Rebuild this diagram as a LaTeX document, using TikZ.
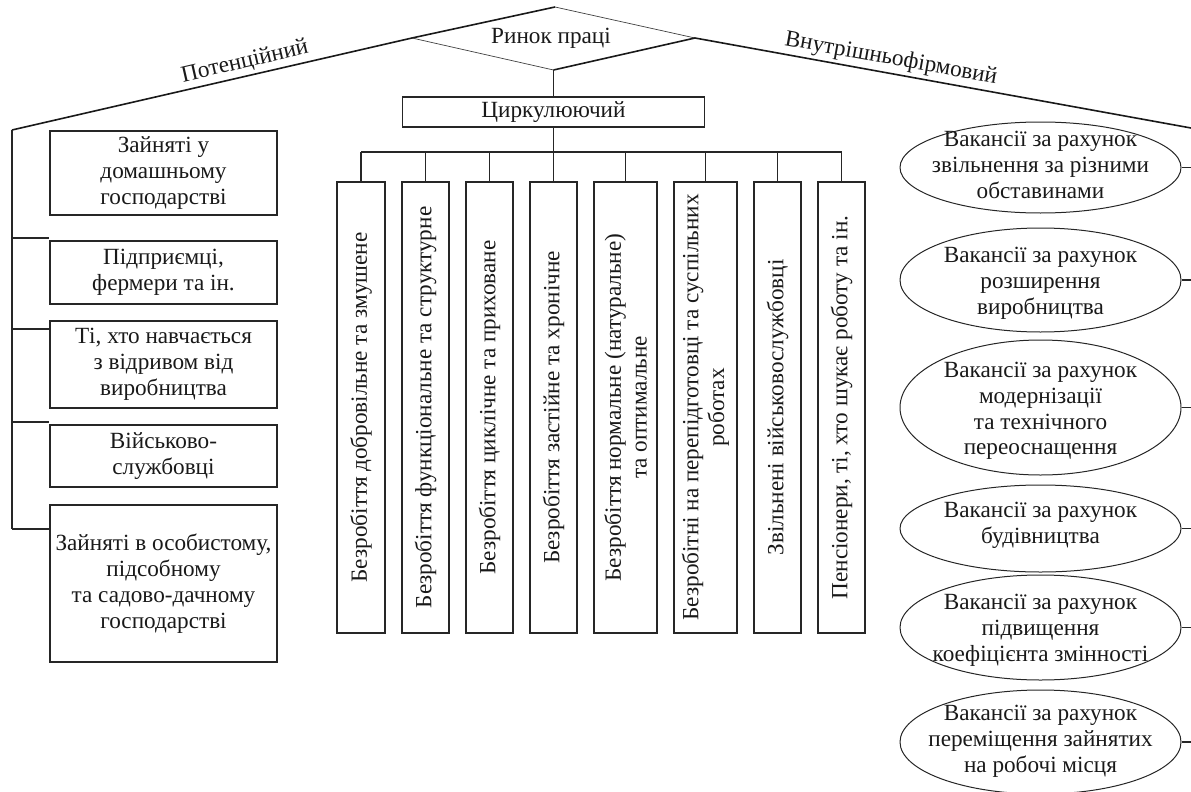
\documentclass[tikz,border=0pt]{standalone}
\usepackage{fontspec}
\setmainfont{Liberation Serif}
\usetikzlibrary{shapes.geometric,calc}
\newcommand\myfs{\fontsize{23.2}{25.8}\selectfont}
\begin{document}
\begin{tikzpicture}[x=1pt,y=-1pt,
  ink/.style={draw=black!85, line width=1.2pt},
  trunk/.style={draw=black!90, line width=1.6pt},
  vtrunk/.style={draw=black!85, line width=1.3pt},
  thinedge/.style={draw=black!75, line width=0.7pt},
  txt/.style={align=center, font=\myfs, inner sep=0pt, text=black!90},
  lbox/.style={ink, txt, rectangle, minimum width=227pt},
  vbox/.style={ink, txt, rectangle, rotate=90, minimum width=451pt},
  ell/.style={draw=black!85, line width=1pt, ellipse, minimum width=281pt, inner sep=0pt},
]
\useasboundingbox (0,0) rectangle (1191,792);

% top diamond
\coordinate (dT) at (555,7);
\coordinate (dL) at (412,38);
\coordinate (dR) at (695,38);
\coordinate (dB) at (553.5,70);
\node[txt] (rp) at (551,38) {Ринок праці};
\draw[trunk] (dL) -- (dT);
\draw[thinedge] (dT) -- (dR);
\draw[thinedge] (dL) -- (dB);
\draw[trunk] (dB) -- (dR);

% main branches
\coordinate (lend) at (12,130);
\coordinate (rend) at (1191,128);
\draw[trunk] (lend) -- node[txt, pos=0.59, sloped, above=3pt] {Потенційний} (dL);
\draw[trunk] (dR) -- node[txt, pos=0.39, sloped, above=3pt] {Внутрішньофірмовий} (rend);

% left column
\node[lbox, minimum height=84pt] (l1) at (163.5,173) {Зайняті у\\домашньому\\господарстві};
\node[lbox, minimum height=63pt] (l2) at (163.5,272.5) {Підприємці,\\фермери та ін.};
\node[lbox, minimum height=87pt] (l3) at (163.5,364.5) {Ті, хто навчається\\з відривом від\\виробництва};
\node[lbox, minimum height=62pt] (l4) at (163.5,456) {Військово-\\службовці};
\node[lbox, minimum height=157pt] (l5) at (163.5,583.5) {Зайняті в особистому,\\підсобному\\та садово-дачному\\господарстві};
\coordinate (lb2) at (12,238);
\coordinate (lb3) at (12,329);
\coordinate (lb4) at (12,422);
\coordinate (lb5) at (12,529);
\draw[vtrunk] (lend) -- (lb5);
\draw[ink] (lb2) -- (lb2 -| l2.west);
\draw[ink] (lb3) -- (lb3 -| l3.west);
\draw[ink] (lb4) -- (lb4 -| l4.west);
\draw[ink] (lb5) -- (lb5 -| l5.west);

% circulating
\node[ink, txt, minimum width=302pt, minimum height=30pt] (circ) at (553.5,112) {Циркулюючий};
\draw[ink] (dB) -- (circ.north);
\coordinate (bus) at (553.5,152);
\draw[ink] (circ.south) -- (bus);

\node[vbox, minimum height=48pt] (b1) at (361,407.5) {Безробіття добровільне та змушене};
\node[vbox, minimum height=47pt] (b2) at (425.5,407.5) {Безробіття функціональне та структурне};
\node[vbox, minimum height=47pt] (b3) at (489.5,407.5) {Безробіття циклічне та приховане};
\node[vbox, minimum height=47pt] (b4) at (553.5,407.5) {Безробіття застійне та хронічне};
\node[vbox, minimum height=63pt] (b5) at (625.5,407.5) {Безробіття нормальне (натуральне)\\та оптимальне};
\node[vbox, minimum height=63pt] (b6) at (705.5,407.5) {Безробітні на перепідготовці та суспільних\\роботах};
\node[vbox, minimum height=47pt] (b7) at (777.5,407.5) {Звільнені військовослужбовці};
\node[vbox, minimum height=47pt] (b8) at (841.5,407.5) {Пенсіонери, ті, хто шукає роботу та ін.};
\draw[ink] (b1.east |- bus) -- (b8.east |- bus);
\foreach \i in {1,...,8} \draw[ink] (b\i.east) -- (b\i.east |- bus);

% right ellipses
\node[ell, minimum height=91pt] (e1) at (1040.5,167.5) {};
\node[txt] (t1) at (1040.5,165) {Вакансії за рахунок\\звільнення за різними\\обставинами};
\node[ell, minimum height=104pt] (e2) at (1040.5,280) {};
\node[txt] (t2) at (1040.5,283) {Вакансії за рахунок\\розширення\\виробництва};
\node[ell, minimum height=135pt] (e3) at (1040.5,407.5) {};
\node[txt] (t3) at (1040.5,411) {Вакансії за рахунок\\модернізації\\та технічного\\переоснащення};
\node[ell, minimum height=87pt] (e4) at (1040.5,528.5) {};
\node[txt] (t4) at (1040.5,525) {Вакансії за рахунок\\будівництва};
\node[ell, minimum height=105pt] (e5) at (1040.5,627.5) {};
\node[txt] (t5) at (1040.5,630) {Вакансії за рахунок\\підвищення\\коефіцієнта змінності};
\node[ell, minimum height=104pt] (e6) at (1040.5,742) {};
\node[txt] (t6) at (1040.5,741) {Вакансії за рахунок\\переміщення зайнятих\\на робочі місця};
\foreach \i in {1,...,6} \draw[ink] (e\i.east) -- (e\i.east -| rend);
\end{tikzpicture}
\end{document}
